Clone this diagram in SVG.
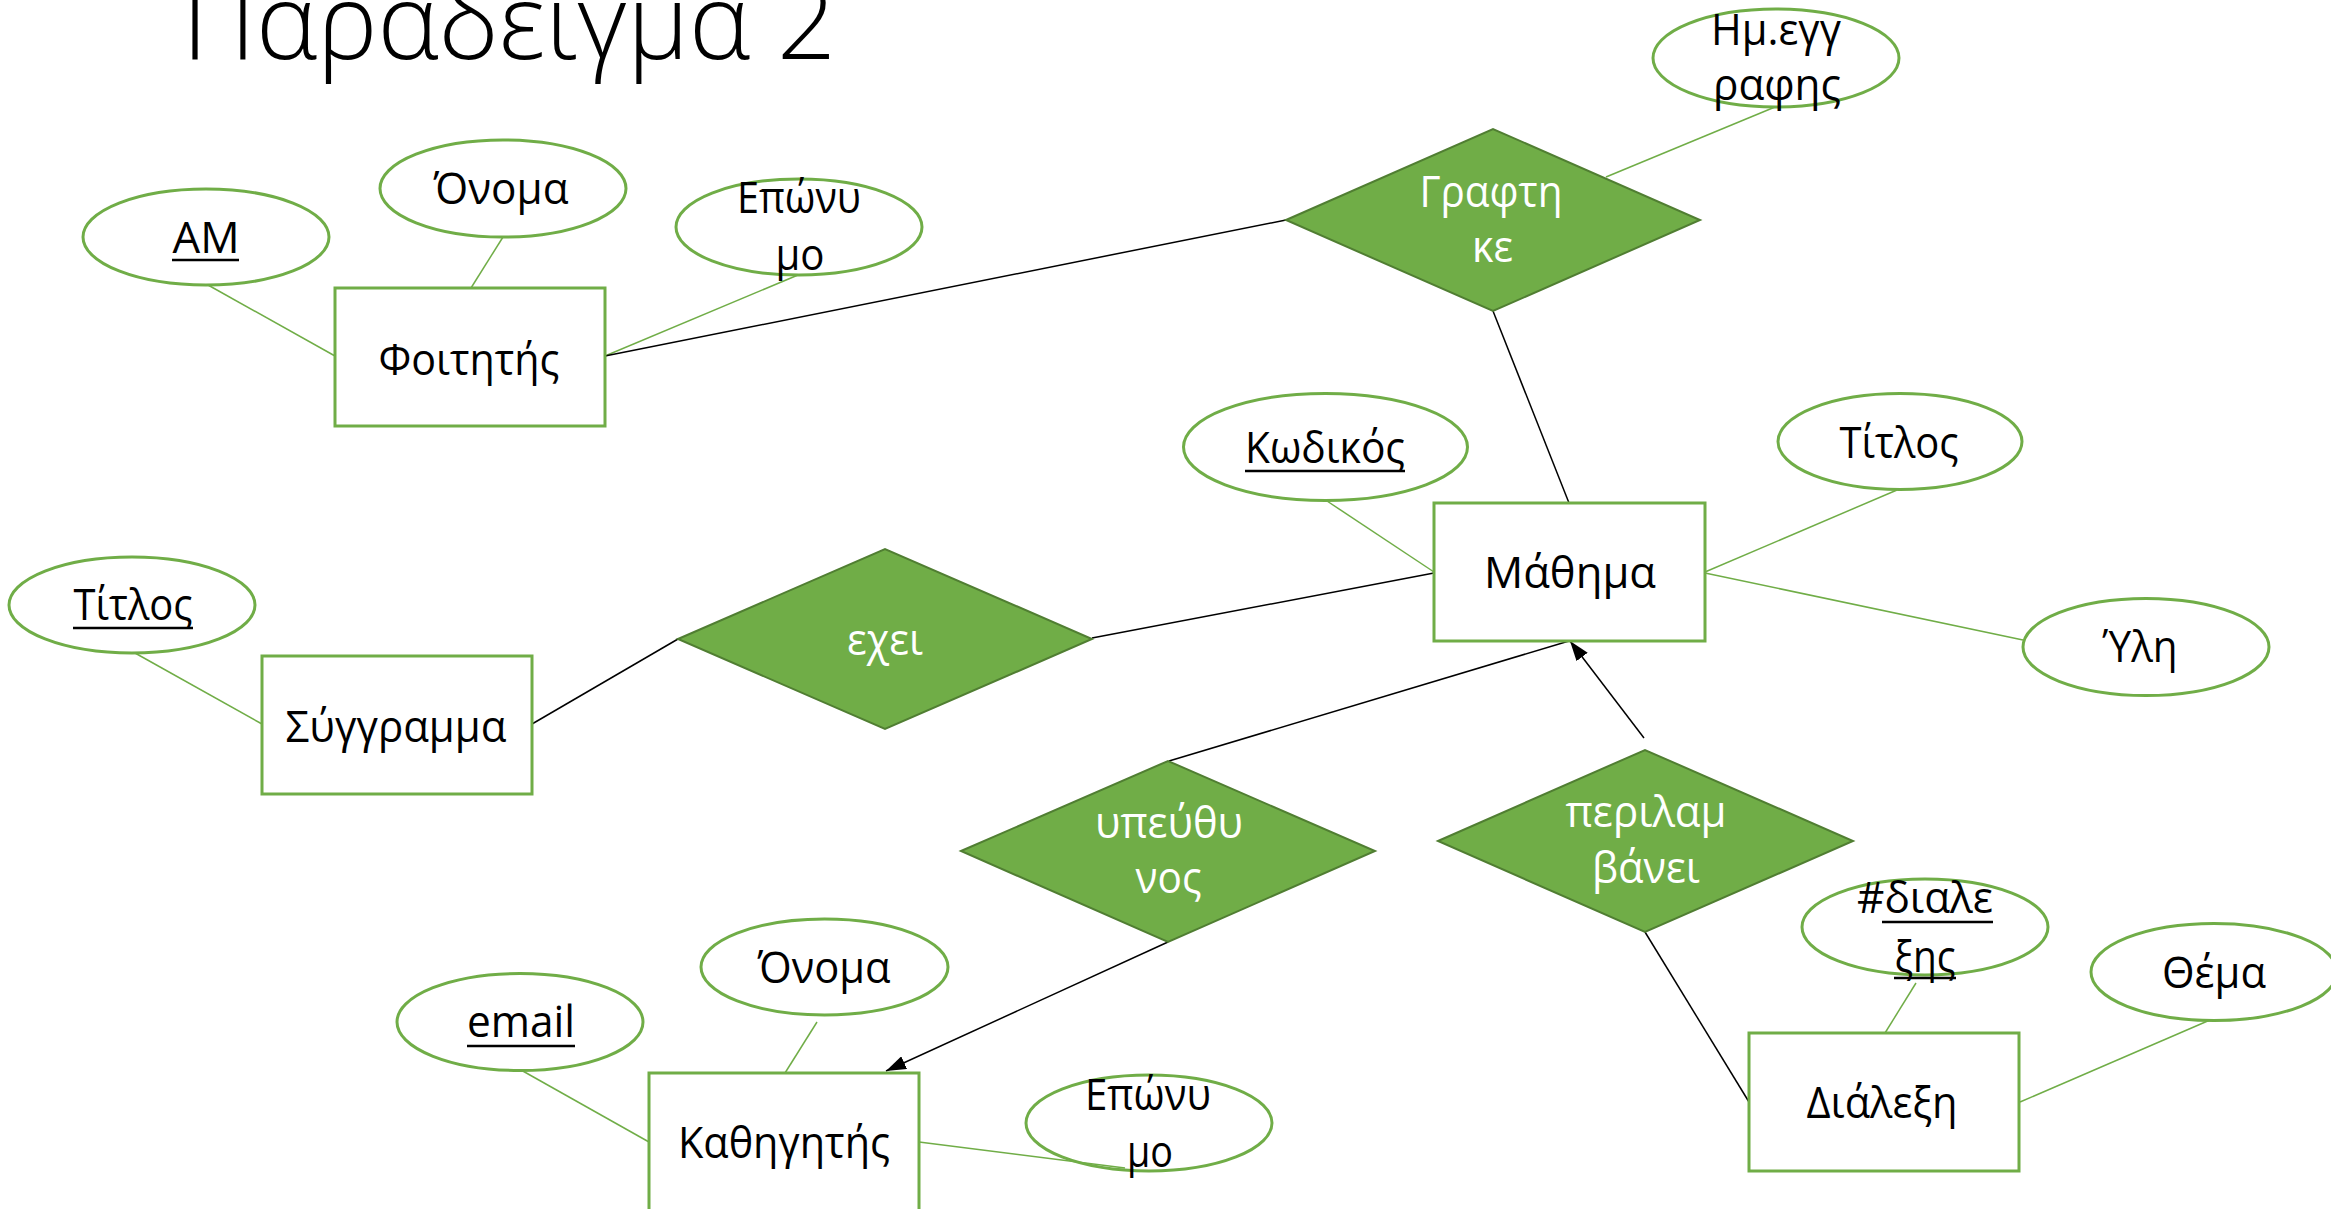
<svg xmlns="http://www.w3.org/2000/svg" width="2331" height="1209" viewBox="0 0 2331 1209">
  <style>
    .t { font-family: "Open Sans", "Noto Sans", "DejaVu Sans", sans-serif; font-size: 44px; fill: #000; text-anchor: middle; }
    .w { fill: #fff; }
    .title { font-family: "Open Sans", "Noto Sans", "DejaVu Sans", sans-serif; font-size: 106px; font-weight: 300; fill: #000; }
    .ent { fill: #fff; stroke: #70AD47; stroke-width: 3; }
    .att { fill: none; stroke: #70AD47; stroke-width: 3; }
    .rel { fill: #70AD47; stroke: #507E32; stroke-width: 2; }
    .ga { stroke: #70AD47; stroke-width: 1.5; fill: none; }
    .bk { stroke: #000; stroke-width: 1.5; fill: none; }
    .ul { stroke: #000; stroke-width: 2.5; }
  </style>
  <defs>
    <marker id="arrow" markerUnits="userSpaceOnUse" markerWidth="20" markerHeight="14" refX="20" refY="7" orient="auto">
      <path d="M0,0 L20,7 L0,14 z" fill="#000"/>
    </marker>
  </defs>

  <rect width="2331" height="1209" fill="#fff"/>

  <text class="title" x="182" y="59" textLength="654" lengthAdjust="spacingAndGlyphs">Παραδειγμα 2</text>

  <!-- connectors -->
  <g id="connectors">
    <!-- attribute links -->
    <line class="ga" x1="208" y1="285" x2="335" y2="356"/>
    <line class="ga" x1="503" y1="237" x2="471" y2="288"/>
    <line class="ga" x1="798" y1="275" x2="605" y2="356"/>
    <line class="ga" x1="1775" y1="107" x2="1606" y2="177"/>
    <line class="ga" x1="135" y1="653" x2="262" y2="724"/>
    <line class="ga" x1="1327" y1="501" x2="1434" y2="572"/>
    <line class="ga" x1="1897" y1="490" x2="1705" y2="572"/>
    <line class="ga" x1="1705" y1="573" x2="2023" y2="640"/>
    <line class="ga" x1="521" y1="1070" x2="649" y2="1142"/>
    <line class="ga" x1="817" y1="1022" x2="785" y2="1073"/>
    <line class="ga" x1="919" y1="1142" x2="1125" y2="1168"/>
    <line class="ga" x1="1916" y1="983" x2="1885" y2="1033"/>
    <line class="ga" x1="2210" y1="1020" x2="2020" y2="1102"/>
    <!-- relationship links -->
    <line class="bk" x1="605" y1="356" x2="1286" y2="220"/>
    <line class="bk" x1="1493" y1="311" x2="1569" y2="503"/>
    <line class="bk" x1="532" y1="724" x2="678" y2="639"/>
    <line class="bk" x1="1092" y1="638" x2="1434" y2="573"/>
    <line class="bk" x1="1169" y1="761" x2="1569" y2="641"/>
    <line class="bk" x1="1168" y1="942" x2="886" y2="1071" marker-end="url(#arrow)"/>
    <line class="bk" x1="1644" y1="738" x2="1570" y2="641" marker-end="url(#arrow)"/>
    <line class="bk" x1="1645" y1="932" x2="1749" y2="1102"/>
  </g>

  <!-- entities -->
  <g id="foititis">
    <rect class="ent" x="335" y="288" width="270" height="138"/>
    <text class="t" x="469" y="375" textLength="181" lengthAdjust="spacingAndGlyphs">Φοιτητής</text>
  </g>
  <g id="syggramma">
    <rect class="ent" x="262" y="656" width="270" height="138"/>
    <text class="t" x="396" y="742" textLength="221" lengthAdjust="spacingAndGlyphs">Σύγγραμμα</text>
  </g>
  <g id="mathima">
    <rect class="ent" x="1434" y="503" width="271" height="138"/>
    <text class="t" x="1570" y="588" textLength="172" lengthAdjust="spacingAndGlyphs">Μάθημα</text>
  </g>
  <g id="kathigitis">
    <rect class="ent" x="649" y="1073" width="270" height="138"/>
    <text class="t" x="784" y="1158" textLength="212" lengthAdjust="spacingAndGlyphs">Καθηγητής</text>
  </g>
  <g id="dialexi">
    <rect class="ent" x="1749" y="1033" width="270" height="138"/>
    <text class="t" x="1882" y="1118" textLength="151" lengthAdjust="spacingAndGlyphs">Διάλεξη</text>
  </g>

  <!-- relationships -->
  <g id="grafthke">
    <polygon class="rel" points="1286,220 1493,129 1700,220 1493,311"/>
    <text class="t w" x="1491" y="207" textLength="143" lengthAdjust="spacingAndGlyphs">Γραφτη</text>
    <text class="t w" x="1492.5" y="262" textLength="41" lengthAdjust="spacingAndGlyphs">κε</text>
  </g>
  <g id="exei">
    <polygon class="rel" points="678,639 885,549 1092,639 885,729"/>
    <text class="t w" x="885" y="655" textLength="76" lengthAdjust="spacingAndGlyphs">εχει</text>
  </g>
  <g id="ypeythynos">
    <polygon class="rel" points="961,851 1168,761 1375,851 1168,942"/>
    <text class="t w" x="1169" y="838" textLength="148" lengthAdjust="spacingAndGlyphs">υπεύθυ</text>
    <text class="t w" x="1168.6" y="893" textLength="66" lengthAdjust="spacingAndGlyphs">νος</text>
  </g>
  <g id="perilamvanei">
    <polygon class="rel" points="1438,841 1645,750 1853,841 1645,932"/>
    <text class="t w" x="1646" y="827" textLength="161" lengthAdjust="spacingAndGlyphs">περιλαμ</text>
    <text class="t w" x="1646" y="883" textLength="108" lengthAdjust="spacingAndGlyphs">βάνει</text>
  </g>

  <!-- attributes -->
  <g id="attr-am">
    <ellipse class="att" cx="206" cy="237" rx="123" ry="48"/>
    <text class="t" x="206" y="253" textLength="67" lengthAdjust="spacingAndGlyphs">AM</text>
    <line class="ul" x1="172" y1="260" x2="239" y2="260"/>
  </g>
  <g id="attr-onoma-foititi">
    <ellipse class="att" cx="503" cy="188.5" rx="123" ry="48.5"/>
    <text class="t" x="501" y="204" textLength="135" lengthAdjust="spacingAndGlyphs">Όνομα</text>
  </g>
  <g id="attr-eponymo-foititi">
    <ellipse class="att" cx="799" cy="227" rx="123" ry="48"/>
    <text class="t" x="799" y="213" textLength="124" lengthAdjust="spacingAndGlyphs">Επώνυ</text>
    <text class="t" x="800" y="270" textLength="49" lengthAdjust="spacingAndGlyphs">μο</text>
  </g>
  <g id="attr-im-eggrafis">
    <ellipse class="att" cx="1776" cy="58" rx="123" ry="49"/>
    <text class="t" x="1776" y="45" textLength="130" lengthAdjust="spacingAndGlyphs">Ημ.εγγ</text>
    <text class="t" x="1777" y="100" textLength="128" lengthAdjust="spacingAndGlyphs">ραφης</text>
  </g>
  <g id="attr-titlos-syggrammatos">
    <ellipse class="att" cx="132" cy="605" rx="123" ry="48"/>
    <text class="t" x="133" y="620" textLength="119" lengthAdjust="spacingAndGlyphs">Τίτλος</text>
    <line class="ul" x1="73" y1="628" x2="193" y2="628"/>
  </g>
  <g id="attr-kodikos">
    <ellipse class="att" cx="1325.5" cy="447" rx="142" ry="53.5"/>
    <text class="t" x="1325" y="463" textLength="160" lengthAdjust="spacingAndGlyphs">Κωδικός</text>
    <line class="ul" x1="1245" y1="471" x2="1405" y2="471"/>
  </g>
  <g id="attr-titlos-mathimatos">
    <ellipse class="att" cx="1900" cy="441.5" rx="122" ry="48"/>
    <text class="t" x="1899" y="458" textLength="119" lengthAdjust="spacingAndGlyphs">Τίτλος</text>
  </g>
  <g id="attr-yli">
    <ellipse class="att" cx="2146" cy="647" rx="123" ry="48.5"/>
    <text class="t" x="2140" y="662" textLength="75" lengthAdjust="spacingAndGlyphs">Ύλη</text>
  </g>
  <g id="attr-email">
    <ellipse class="att" cx="520" cy="1022" rx="123" ry="48.5"/>
    <text class="t" x="521" y="1037" textLength="108" lengthAdjust="spacingAndGlyphs">email</text>
    <line class="ul" x1="467" y1="1046" x2="575" y2="1046"/>
  </g>
  <g id="attr-onoma-kathigiti">
    <ellipse class="att" cx="824.5" cy="967" rx="123.5" ry="48"/>
    <text class="t" x="824" y="983" textLength="133" lengthAdjust="spacingAndGlyphs">Όνομα</text>
  </g>
  <g id="attr-eponymo-kathigiti">
    <ellipse class="att" cx="1149" cy="1123" rx="123" ry="48"/>
    <text class="t" x="1148" y="1110" textLength="126" lengthAdjust="spacingAndGlyphs">Επώνυ</text>
    <text class="t" x="1150" y="1167" textLength="46" lengthAdjust="spacingAndGlyphs">μο</text>
  </g>
  <g id="attr-ar-dialexis">
    <ellipse class="att" cx="1925" cy="927" rx="123" ry="48"/>
    <text class="t" x="1925" y="913" textLength="136" lengthAdjust="spacingAndGlyphs">#διαλε</text>
    <line class="ul" x1="1882" y1="922" x2="1993" y2="922"/>
    <text class="t" x="1925" y="972" textLength="61" lengthAdjust="spacingAndGlyphs">ξης</text>
    <line class="ul" x1="1894" y1="978" x2="1956" y2="978"/>
  </g>
  <g id="attr-thema">
    <ellipse class="att" cx="2214" cy="972" rx="123" ry="48.5"/>
    <text class="t" x="2214" y="988" textLength="104" lengthAdjust="spacingAndGlyphs">Θέμα</text>
  </g>
</svg>
